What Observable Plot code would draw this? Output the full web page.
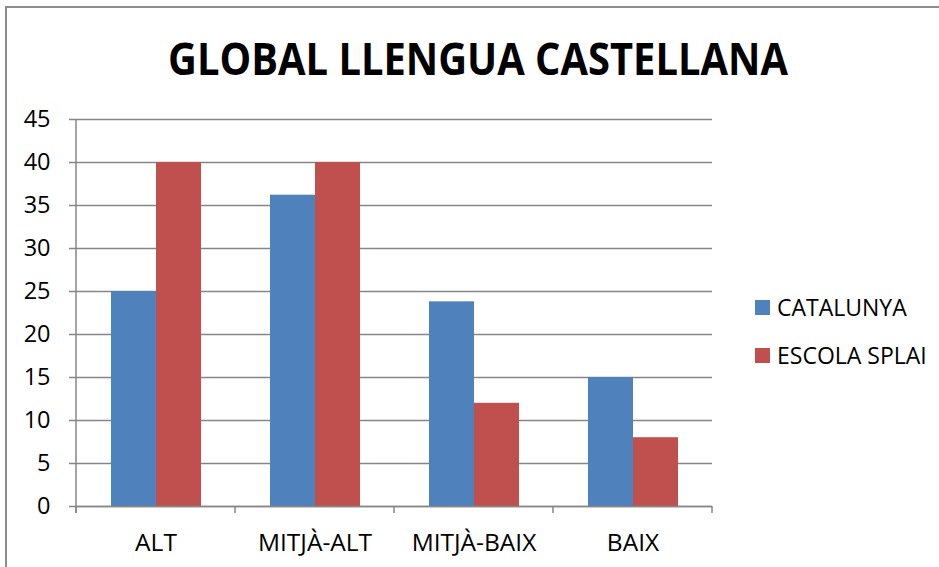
<!DOCTYPE html>
<html>
<head>
<meta charset="utf-8">
<script src="https://cdn.jsdelivr.net/npm/d3@7"></script>
<script src="https://cdn.jsdelivr.net/npm/@observablehq/plot@0.6"></script>
<style>
  body { margin: 0; background: #fff; }
  #wrap { position: relative; width: 939px; height: 567px; overflow: hidden; font-family: "Open Sans", sans-serif; }
  #border { position: absolute; left: 5px; top: 6px; width: 2000px; height: 2000px; border-left: 2px solid #8c8c8c; border-top: 2px solid #8c8c8c; }
  #title { position: absolute; left: 0; top: 0; }
  #chart { position: absolute; left: 0; top: 100px; }
  .leg { position: absolute; left: 755px; display: flex; align-items: center; font-size: 23px; color: #000; }
  .leg span.sw { display: inline-block; width: 15px; height: 15px; margin-right: 7px; }
</style>
</head>
<body>
<div id="wrap">
  <div id="border"></div>
  <svg id="title" width="939" height="100">
    <text x="478" y="75" text-anchor="middle" font-family="Open Sans" font-weight="700" font-size="44" textLength="620" lengthAdjust="spacingAndGlyphs">GLOBAL LLENGUA CASTELLANA</text>
  </svg>
  <div id="chart"></div>
  <div id="legend"></div>
</div>
<script>
const categories = ["ALT", "MITJÀ-ALT", "MITJÀ-BAIX", "BAIX"];
const series = ["CATALUNYA", "ESCOLA SPLAI"];
const catalunya = [25, 36.2, 23.8, 15];
const escolaSplai = [40, 40, 12, 8];
const colors = ["#4F81BD", "#C0504D"];
const yTicks = [0, 5, 10, 15, 20, 25, 30, 35, 40, 45];

const data = [];
categories.forEach((c, i) => {
  data.push({cat: c, series: series[0], value: catalunya[i]});
  data.push({cat: c, series: series[1], value: escolaSplai[i]});
});

const gray = "#868686";

const plot = Plot.plot({
  width: 939,
  height: 467,
  marginLeft: 75,
  marginRight: 227,
  marginTop: 19,
  marginBottom: 61,
  style: {fontFamily: "Open Sans", fontSize: "23px", color: "#000", background: "transparent"},
  fx: {domain: categories, padding: 0, label: null},
  x: {domain: series, paddingInner: 0, paddingOuter: 0.74, axis: null},
  y: {domain: [0, 45], label: null},
  color: {domain: series, range: colors},
  marks: [
    Plot.gridY(yTicks, {stroke: gray, strokeOpacity: 1, strokeWidth: 1.5}),
    Plot.barY(data, {fx: "cat", x: "series", y: "value", fill: "series"}),
    Plot.ruleY([0], {stroke: gray, strokeWidth: 1.5}),
    Plot.axisY(yTicks, {tickSize: 7, tickPadding: 19, stroke: gray, strokeWidth: 1.5, fill: "#000", fontSize: 23.5, tickFormat: d => String(d)}),
    Plot.axisFx({anchor: "bottom", tickSize: 0, tickPadding: 27, fontSize: 24.5, fill: "#000", label: null})
  ]
});

// Category boundary ticks and vertical axis line, placed through Plot's own scales
const fx = plot.scale("fx");
const y = plot.scale("y");
const svg = d3.select(plot);
const y0 = y.apply(0);
const yTop = y.apply(45);
const bounds = fx.domain.map(d => fx.apply(d));
bounds.push(fx.apply(fx.domain[fx.domain.length - 1]) + fx.bandwidth);
const g = svg.append("g").attr("stroke", gray).attr("stroke-width", 1.5);
bounds.forEach(bx => {
  g.append("line").attr("x1", bx).attr("x2", bx).attr("y1", y0).attr("y2", y0 + 7);
});
g.append("line").attr("x1", bounds[0]).attr("x2", bounds[0]).attr("y1", yTop).attr("y2", y0 + 7);

document.getElementById("chart").appendChild(plot);

// Legend
const legend = document.getElementById("legend");
series.forEach((s, i) => {
  const div = document.createElement("div");
  div.className = "leg";
  div.style.top = (292 + i * 48) + "px";
  div.style.height = "30px";
  div.innerHTML = `<span class="sw" style="background:${colors[i]}"></span><span>${s}</span>`;
  legend.appendChild(div);
});
</script>
</body>
</html>
